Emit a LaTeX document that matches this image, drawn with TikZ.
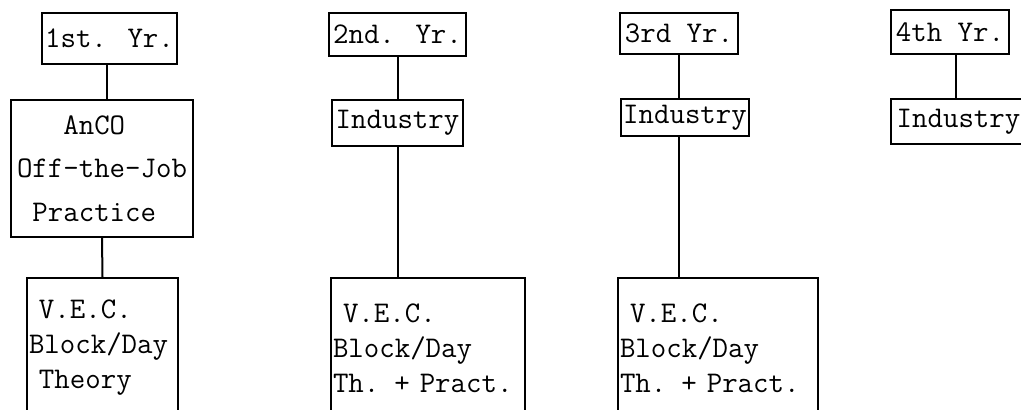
\documentclass[tikz,border=0pt]{standalone}
\usepackage{tikz}
\usetikzlibrary{positioning}

\begin{document}
\begin{tikzpicture}[x=0.5pt, y=-0.5pt, line width=1pt,
    box/.style={draw, anchor=north west, inner xsep=1pt, inner ysep=0pt,
      font=\fontsize{15}{17.5}\selectfont\ttfamily},
    vecbox/.style={box, align=left, text width=#1, minimum height=70pt}]
  \useasboundingbox (0,0) rectangle (1021,410);

  % years
  \node[box, minimum width=67.5pt, minimum height=25.5pt] (t1) at (41,12) {1st. Yr.};
  \node[box, minimum width=68.5pt, minimum height=21.5pt] (t2) at (328,12) {2nd. Yr.};
  \node[box, minimum width=59pt, minimum height=20.5pt] (t3) at (619,12) {3rd Yr.};
  \node[box, minimum width=59pt, minimum height=22pt] (t4) at (890,9) {4th Yr.};

  % middle row
  \node[box, align=left, minimum width=91pt, minimum height=68.5pt,
    font=\fontsize{15}{21.75}\selectfont\ttfamily] (a1) at (10,99)
    {~~~AnCO\\Off-the-Job\\~Practice};
  \node[box, minimum width=65.5pt, minimum height=23pt] (a2) at (331,99) {Industry};
  \node[box, minimum width=64pt, minimum height=18.5pt] (a3) at (620,98) {Industry};
  \node[box, minimum width=67.5pt, minimum height=22.5pt] (a4) at (890,98) {Industry};

  % V.E.C. row
  \node[vecbox=73.5pt] (b1) at (26,277) {~V.E.C.\\Block/Day\\~Theory};
  \node[vecbox=95pt] (b2) at (330,277) {~V.E.C.\\Block/Day\\Th. + Pract.};
  \node[vecbox=98pt] (b3) at (617,277) {~V.E.C.\\Block/Day\\Th. + Pract.};

  \draw ([xshift=-1.5pt]t1.south) -- ([xshift=-1.5pt]t1.south |- a1.north);
  \draw (a1.south) -- (b1.north);
  \draw (t2.south) -- (a2.north);
  \draw (a2.south) -- (a2.south |- b2.north);
  \draw (t3.south) -- (t3.south |- a3.north);
  \draw (t3.south |- a3.south) -- (t3.south |- b3.north);
  \draw ([xshift=3pt]t4.south) -- ([xshift=3pt]t4.south |- a4.north);
\end{tikzpicture}
\end{document}
